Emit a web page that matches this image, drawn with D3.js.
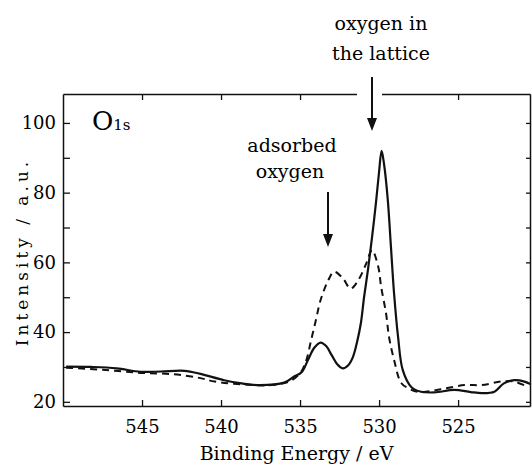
<!DOCTYPE html>
<html>
<head>
<meta charset="utf-8">
<script src="https://cdn.jsdelivr.net/npm/d3@7"></script>
<style>
  body { margin: 0; background: #fff; }
  text { font-family: "DejaVu Serif", serif; fill: #000; }
</style>
</head>
<body>
<div id="root"></div>
<script>
// O1s spectrum
var solidEnergy = [549.8, 548.2, 546.6, 545.1, 543.8, 542.3, 541.3, 539.8, 538.7, 537.7, 536.0, 535.4, 534.9, 534.5, 534.1, 533.7, 533.35, 533.0, 532.65, 532.3, 531.95, 531.65, 531.4, 531.15, 530.95, 530.7, 530.45, 530.2, 530.0, 529.84, 529.68, 529.45, 529.25, 529.05, 528.8, 528.5, 527.95, 527.35, 526.5, 525.25, 524.2, 523.5, 522.7, 522.1, 521.45, 520.8, 520.3];
var solidIntensity = [30.1, 30.0, 29.6, 28.6, 28.7, 28.9, 28.0, 26.2, 25.3, 24.8, 25.5, 27.2, 28.5, 32.0, 35.5, 37.0, 36.0, 33.4, 30.8, 29.6, 30.5, 32.9, 37.0, 42.6, 50.0, 58.0, 67.0, 77.0, 86.0, 92.0, 88.0, 78.0, 64.5, 51.0, 38.7, 29.1, 24.2, 22.9, 22.7, 23.4, 22.8, 22.5, 22.9, 25.3, 26.2, 25.8, 24.8];

var dashEnergy = [549.8, 547.5, 545.1, 543.0, 541.3, 540.4, 538.7, 536.8, 535.6, 534.95, 534.6, 534.3, 534.0, 533.7, 533.2, 532.85, 532.3, 531.8, 531.3, 530.8, 530.45, 530.05, 529.87, 529.56, 529.37, 529.05, 528.6, 528.15, 527.5, 526.1, 524.6, 523.5, 522.3, 521.45, 520.6];
var dashIntensity = [29.8, 29.2, 28.3, 27.9, 26.8, 25.8, 25.0, 24.8, 26.0, 28.5, 32.0, 37.7, 43.4, 49.2, 55.0, 57.3, 55.5, 52.5, 55.0, 59.8, 63.5, 58.7, 53.0, 45.4, 38.6, 32.0, 25.4, 23.9, 22.8, 23.6, 24.8, 24.8, 25.8, 25.8, 24.3];

var xTicks = [545, 540, 535, 530, 525];
var yTicks = [20, 30, 40, 50, 60, 70, 80, 90, 100];
var yLabels = [20, 40, 60, 80, 100];

var width = 532;
var height = 466;
var plotL = 63, plotR = 530, plotT = 94, plotB = 406;

var svg = d3.select('#root')
  .append('svg')
    .attr('width', width)
    .attr('height', height);

var x = d3.scaleLinear().domain([550, 520.45]).range([plotL, plotR]);
var y = d3.scaleLinear().domain([18.8, 108.3]).range([plotB, plotT]);

svg.append('clipPath').attr('id', 'plot')
  .append('rect')
    .attr('x', plotL).attr('y', plotT)
    .attr('width', plotR - plotL).attr('height', plotB - plotT);

// axes, ticks pointing inward
function styleAxis(g) {
  g.selectAll('path').attr('stroke', '#111').attr('stroke-width', 1.5);
  g.selectAll('line').attr('stroke', '#111').attr('stroke-width', 1.3);
  g.selectAll('text').attr('font-family', '"DejaVu Serif", serif').attr('font-size', 18).attr('fill', '#000');
}

svg.append('g')
  .attr('transform', 'translate(0,' + plotB + ')')
  .call(d3.axisBottom(x).tickValues(xTicks).tickSize(-6).tickSizeOuter(0).tickPadding(14))
  .call(styleAxis);

svg.append('g')
  .attr('transform', 'translate(0,' + plotT + ')')
  .call(d3.axisTop(x).tickValues(xTicks).tickSize(-6).tickSizeOuter(0).tickFormat(''))
  .call(styleAxis);

svg.append('g')
  .attr('transform', 'translate(' + plotL + ',0)')
  .call(d3.axisLeft(y).tickValues(yTicks).tickSize(-7).tickSizeOuter(0).tickPadding(7)
    .tickFormat(function(d) { return yLabels.indexOf(d) >= 0 ? d : ''; }))
  .call(styleAxis);

svg.append('g')
  .attr('transform', 'translate(' + plotR + ',0)')
  .call(d3.axisRight(y).tickValues(yTicks).tickSize(-4).tickSizeOuter(0).tickFormat(''))
  .call(styleAxis);

// gap in the top frame where the arrow comes through
svg.append('rect')
  .attr('x', 357).attr('y', plotT - 3)
  .attr('width', 25).attr('height', 10)
  .attr('fill', '#fff');

// curves
var line = d3.line()
  .x(function(d) { return x(d[0]); })
  .y(function(d) { return y(d[1]); })
  .curve(d3.curveCatmullRom.alpha(0.5));

svg.append('path')
  .datum(d3.zip(dashEnergy, dashIntensity))
  .attr('clip-path', 'url(#plot)')
  .attr('d', line)
  .attr('fill', 'none')
  .attr('stroke', '#111')
  .attr('stroke-width', 2)
  .attr('stroke-dasharray', '7,5');

svg.append('path')
  .datum(d3.zip(solidEnergy, solidIntensity))
  .attr('clip-path', 'url(#plot)')
  .attr('d', line)
  .attr('fill', 'none')
  .attr('stroke', '#111')
  .attr('stroke-width', 2.2);

// arrows
function arrow(x0, y0, y1) {
  svg.append('line')
    .attr('x1', x0).attr('x2', x0)
    .attr('y1', y0).attr('y2', y1 - 8)
    .attr('stroke', '#111').attr('stroke-width', 2);
  svg.append('path')
    .attr('d', 'M' + (x0 - 5) + ',' + (y1 - 13) + 'L' + (x0 + 5) + ',' + (y1 - 13) + 'L' + x0 + ',' + y1 + 'Z')
    .attr('fill', '#111');
}
arrow(372, 77, 131);
arrow(328, 192, 247);

// labels
svg.append('text')
  .attr('x', 381).attr('y', 30)
  .attr('text-anchor', 'middle').attr('font-size', 19)
  .text('oxygen in');
svg.append('text')
  .attr('x', 381).attr('y', 60)
  .attr('text-anchor', 'middle').attr('font-size', 19)
  .text('the lattice');
svg.append('text')
  .attr('x', 292).attr('y', 152)
  .attr('text-anchor', 'middle').attr('font-size', 19)
  .text('adsorbed');
svg.append('text')
  .attr('x', 290).attr('y', 178)
  .attr('text-anchor', 'middle').attr('font-size', 19)
  .text('oxygen');

var o1s = svg.append('text')
  .attr('x', 92).attr('y', 130)
  .attr('font-size', 26)
  .text('O');
o1s.append('tspan')
  .attr('font-size', 15)
  .text('1s');

svg.append('text')
  .attr('x', (plotL + plotR) / 2).attr('y', 460)
  .attr('text-anchor', 'middle').attr('font-size', 19)
  .text('Binding Energy / eV');

svg.append('text')
  .attr('transform', 'translate(28,252) rotate(-90)')
  .attr('text-anchor', 'middle').attr('font-size', 17)
  .attr('letter-spacing', 4)
  .text('Intensity / a.u.');
</script>
</body>
</html>
